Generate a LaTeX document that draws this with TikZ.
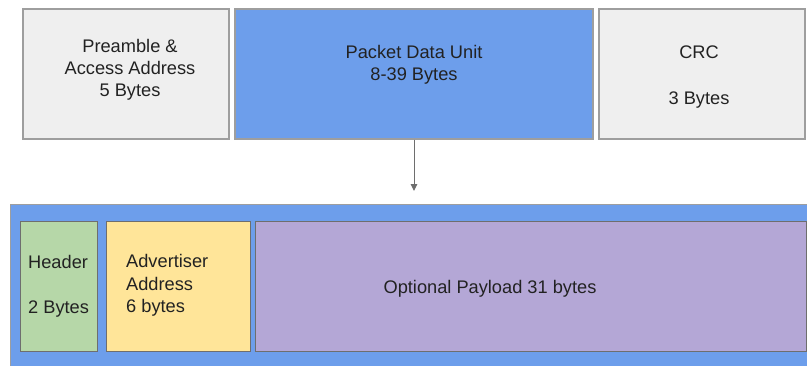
\documentclass[tikz,border=0pt]{standalone}
\usepackage{fontspec}
\setmainfont{Liberation Sans}
\usetikzlibrary{arrows.meta}
\definecolor{boxgray}{HTML}{EFEFEF}
\definecolor{edgegray}{HTML}{9E9E9E}
\definecolor{pdublue}{HTML}{6D9EEB}
\definecolor{hdrgreen}{HTML}{B6D7A8}
\definecolor{advyellow}{HTML}{FFE599}
\definecolor{paypurple}{HTML}{B4A7D6}
\definecolor{inkgray}{HTML}{222222}
\definecolor{inneredge}{HTML}{6E6E6E}
\tikzset{
  field/.style={draw=edgegray, line width=1.2bp, minimum height=130bp, inner sep=0pt},
  subfield/.style={draw=inneredge, line width=1bp, minimum height=130bp, inner sep=0pt},
  txt/.style={text=inkgray, font=\fontsize{18.3}{22}\selectfont, inner sep=0pt},
  flow/.style={draw=inneredge, line width=1bp, -{Triangle[length=7bp,width=6.5bp]}}
}
\begin{document}
\begin{tikzpicture}[x=1bp, y=-1bp]
\clip (0,0) rectangle (807,365);
\fill[white] (0,0) rectangle (807,365);

% air packet: preamble, PDU, CRC
\node[field, fill=boxgray, minimum width=206bp] (pre) at (126,74) {};
\node[field, fill=pdublue, minimum width=358bp] (pdu) at (414,74) {};
\node[field, fill=boxgray, minimum width=206bp] (crc) at (702,74) {};

\node[txt, align=center] (pretxt) at (130,70) {Preamble \&\\Access Address\\5 Bytes};
\node[txt, align=center] (pdutxt) at (414,65) {Packet Data Unit\\8-39 Bytes};
\node[txt, anchor=base] (crctxt) at (699,58) {CRC};
\node[txt, anchor=base] (crcsize) at (699,104) {3 Bytes};

% expanded PDU
\node[draw=edgegray, line width=1bp, fill=pdublue, minimum width=820bp, minimum height=175bp, inner sep=0pt, anchor=north west] (pdubox) at (10,204) {};

\node[subfield, fill=hdrgreen, minimum width=76bp] (hdr) at (59,286) {};
\node[subfield, fill=advyellow, minimum width=144bp] (adv) at (178,286) {};
\node[subfield, fill=paypurple, minimum width=551bp] (pay) at (530.5,286) {};

\node[txt, anchor=base west] (hdrtxt) at (28,268) {Header};
\node[txt, anchor=base west] (hdrsize) at (28,313) {2 Bytes};
\node[txt, anchor=base west] (advtxt) at (126,267) {Advertiser};
\node[txt, anchor=base west] (advtxt2) at (126,290) {Address};
\node[txt, anchor=base west] (advsize) at (126,312) {6 bytes};
\node[txt, anchor=base] (paytxt) at (490,293) {Optional Payload 31 bytes};

% link from the PDU to its breakdown
\coordinate (flowend) at (414,191);
\draw[flow] (pdu.south) -- (flowend);
\end{tikzpicture}
\end{document}
